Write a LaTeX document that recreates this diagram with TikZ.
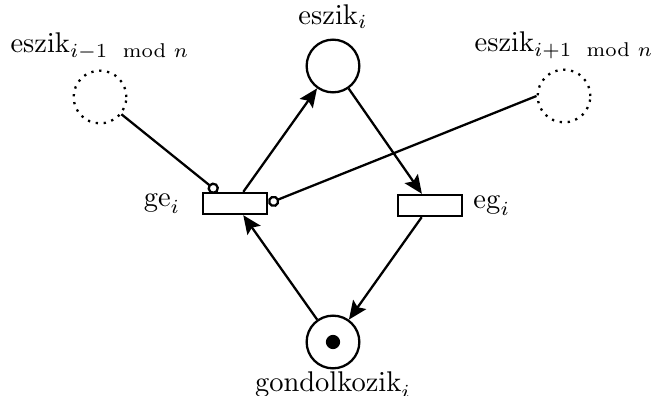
\documentclass[tikz,border=0pt]{standalone}
\usepackage{amsmath}
\usetikzlibrary{arrows.meta}

\tikzset{
  place/.style={circle, draw, thick, minimum size=18.5pt, inner sep=0pt},
  ghostplace/.style={place, dotted},
  transition/.style={rectangle, draw, thick, minimum width=22.6pt, minimum height=7.4pt, inner sep=0pt},
  tokendot/.style={circle, fill=black, minimum size=5pt, inner sep=0pt},
  arc/.style={thick, -{Stealth[length=6.5pt, width=5.6pt, inset=1.2pt]}},
  inhibitor/.style={thick, -{Circle[open, length=4pt, width=4pt]}},
}

\begin{document}
\begin{tikzpicture}[x=0.3509pt, y=-0.3509pt]
  \useasboundingbox (0,0) rectangle (652,396);

  % places
  \node[ghostplace, label=above:{$\mathrm{eszik}_{i-1 \mod n}$}] (em) at (100,97) {};
  \node[place, label=above:{$\mathrm{eszik}_{i}$}] (eszik) at (333,66) {};
  \node[ghostplace, label=above:{$\mathrm{eszik}_{i+1 \mod n}$}] (ep) at (564,96) {};
  \node[place, label={[label distance=-2.9pt]below:{$\mathrm{gondolkozik}_{i}$}}] (gond) at (333,342) {};
  \node[tokendot] (tok) at (gond.center) {};

  % transitions
  \node[transition, label={[label distance=4pt]left:{$\mathrm{ge}_{i}$}}] (ge) at (235,203.5) {};
  \node[transition, label=right:{$\mathrm{eg}_{i}$}] (eg) at (430,205.5) {};

  % arcs
  \draw[arc] (ge) -- (eszik);
  \draw[arc] (eszik) -- (eg);
  \draw[arc] (eg) -- (gond);
  \draw[arc] (gond) -- (ge);

  % inhibitor arcs
  \draw[inhibitor] (em) -- (ge.146);
  \draw[inhibitor] (ep.west) -- (ge.east);
\end{tikzpicture}
\end{document}
